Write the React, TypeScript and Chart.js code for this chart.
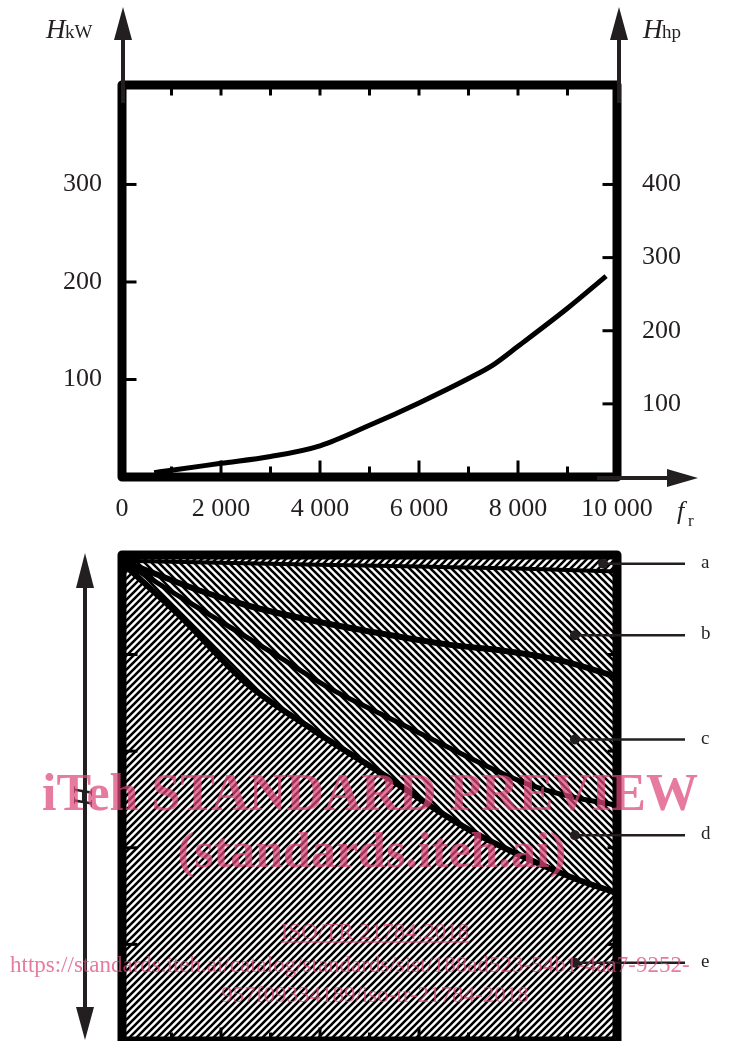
import React, { useEffect, useRef } from "react";
import { Chart, registerables } from "chart.js";

Chart.register(...registerables);

// ---------- upper diagram: power vs. rotational frequency ----------
const speedRpm = [650, 1000, 2000, 3000, 4000, 5000, 6000, 7000, 7500, 8000, 9000, 9780];
const powerKw = [4.5, 7, 14, 21, 32, 53, 76, 101, 115, 134, 173, 206];
const rpmTickValues = [0, 2000, 4000, 6000, 8000, 10000];
const rpmMarkValues = [1000, 2000, 3000, 4000, 5000, 6000, 7000, 8000, 9000];
const kwTickValues = [100, 200, 300];
const hpTickValues = [100, 200, 300, 400];

// ---------- lower diagram: zones (boundary curves) ----------
const curveAX = [0, 2000, 4000, 6000, 8000, 10000];
const curveAY = [4.97, 4.95, 4.93, 4.91, 4.89, 4.86];
const curveBX = [0, 1580, 2520, 3860, 5210, 6630, 7700, 8850, 10000];
const curveBY = [4.97, 4.66, 4.51, 4.35, 4.22, 4.1, 4.04, 3.94, 3.77];
const curveCX = [0, 970, 1840, 3190, 4200, 5210, 6630, 7640, 8240, 9050, 10000];
const curveCY = [4.97, 4.66, 4.39, 3.97, 3.65, 3.39, 3.03, 2.78, 2.65, 2.53, 2.44];
const curveDX = [0, 1170, 2520, 3860, 5210, 7030, 9050, 10000];
const curveDY = [4.95, 4.4, 3.7, 3.22, 2.78, 2.18, 1.7, 1.53];
const zoneLabels = ["a", "b", "c", "d", "e"];
const zoneDotX = [9720, 9150, 9150, 9150, 9150];
const zoneDotY = [4.94, 4.2, 3.12, 2.13, 0.81];
const hTickValues = [1, 2, 3, 4];

const INK = "#231f20";
const SERIF = '"Liberation Serif", "Times New Roman", serif';

const pts = (xs: number[], ys: number[]) => xs.map((x, i) => ({ x, y: ys[i] }));

function fmtRpm(v: number) {
  if (v === 0) return "0";
  const th = Math.floor(v / 1000);
  const rest = String(v % 1000).padStart(3, "0");
  return `${th} ${rest}`;
}

function hatch(ctx: CanvasRenderingContext2D, dir: number, size = 7, lw = 2.6) {
  const c = document.createElement("canvas");
  c.width = size;
  c.height = size;
  const g = c.getContext("2d")!;
  g.fillStyle = "#fff";
  g.fillRect(0, 0, size, size);
  g.strokeStyle = "#000";
  g.lineWidth = lw;
  g.beginPath();
  if (dir > 0) {
    g.moveTo(-1, size + 1);
    g.lineTo(size + 1, -1);
    g.moveTo(-2, 2);
    g.lineTo(2, -2);
    g.moveTo(size - 2, size + 2);
    g.lineTo(size + 2, size - 2);
  } else {
    g.moveTo(-1, -1);
    g.lineTo(size + 1, size + 1);
    g.moveTo(size - 2, -2);
    g.lineTo(size + 2, 2);
    g.moveTo(-2, size - 2);
    g.lineTo(2, size + 2);
  }
  g.stroke();
  return ctx.createPattern(c, "repeat")!;
}

function seg(ctx: CanvasRenderingContext2D, x1: number, y1: number, x2: number, y2: number) {
  ctx.beginPath();
  ctx.moveTo(x1, y1);
  ctx.lineTo(x2, y2);
  ctx.stroke();
}

function tri(ctx: CanvasRenderingContext2D, pts: number[][]) {
  ctx.beginPath();
  ctx.moveTo(pts[0][0], pts[0][1]);
  ctx.lineTo(pts[1][0], pts[1][1]);
  ctx.lineTo(pts[2][0], pts[2][1]);
  ctx.closePath();
  ctx.fill();
}

const topDecor = {
  id: "topDecor",
  afterDraw(chart: any) {
    const { ctx, chartArea: a, scales } = chart;
    const x = scales.x, y = scales.y, y2 = scales.y2;
    ctx.save();
    ctx.strokeStyle = "#000";
    ctx.lineWidth = 9;
    ctx.lineJoin = "round";
    ctx.strokeRect(a.left, a.top, a.right - a.left, a.bottom - a.top);
    ctx.lineWidth = 3;
    rpmMarkValues.forEach((v) => {
      const px = x.getPixelForValue(v);
      const major = v % 2000 === 0;
      seg(ctx, px, a.top, px, a.top + 4.5 + 6);
      seg(ctx, px, a.bottom, px, a.bottom - 4.5 - (major ? 12 : 6));
    });
    kwTickValues.forEach((v) => {
      const py = y.getPixelForValue(v);
      seg(ctx, a.left, py, a.left + 4.5 + 10, py);
    });
    hpTickValues.forEach((v) => {
      const py = y2.getPixelForValue(v);
      seg(ctx, a.right, py, a.right - 4.5 - 10, py);
    });
    // arrows
    ctx.strokeStyle = INK;
    ctx.fillStyle = INK;
    ctx.lineWidth = 4;
    const lx = a.left + 1, rx = a.right + 2;
    seg(ctx, lx, a.top + 18, lx, 38);
    tri(ctx, [[lx, 7], [lx - 9, 40], [lx + 9, 40]]);
    seg(ctx, rx, a.top + 18, rx, 38);
    tri(ctx, [[rx, 7], [rx - 9, 40], [rx + 9, 40]]);
    const by = a.bottom + 1;
    seg(ctx, a.right - 20, by, 670, by);
    tri(ctx, [[698, by], [667, by - 9], [667, by + 9]]);
    // axis titles
    ctx.textBaseline = "alphabetic";
    ctx.textAlign = "left";
    ctx.font = `italic 27px ${SERIF}`;
    ctx.fillText("H", 46, 38);
    ctx.fillText("H", 643, 38);
    ctx.font = `19px ${SERIF}`;
    ctx.fillText("kW", 65, 38);
    ctx.fillText("hp", 662, 38);
    ctx.font = `italic 26px ${SERIF}`;
    ctx.fillText("f", 677, 519);
    ctx.font = `17px ${SERIF}`;
    ctx.fillText("r", 688, 526);
    ctx.restore();
  },
};

const botDecor = {
  id: "botDecor",
  afterDraw(chart: any) {
    const { ctx, chartArea: a, scales } = chart;
    const x = scales.x, y = scales.y;
    ctx.save();
    ctx.strokeStyle = "#000";
    ctx.lineWidth = 9;
    ctx.lineJoin = "round";
    ctx.strokeRect(a.left, a.top, a.right - a.left, a.bottom - a.top);
    ctx.lineWidth = 3;
    hTickValues.forEach((v) => {
      const py = y.getPixelForValue(v);
      seg(ctx, a.left, py, a.left + 4.5 + 11, py);
      seg(ctx, a.right, py, a.right - 4.5 - 5, py);
    });
    rpmMarkValues.forEach((v) => {
      const px = x.getPixelForValue(v);
      const major = v % 2000 === 0;
      seg(ctx, px, a.bottom, px, a.bottom - 4.5 - (major ? 9 : 4));
    });
    // zone markers
    ctx.strokeStyle = INK;
    ctx.fillStyle = INK;
    ctx.lineWidth = 2.5;
    ctx.font = `19px ${SERIF}`;
    ctx.textBaseline = "middle";
    ctx.textAlign = "left";
    zoneLabels.forEach((lab, i) => {
      const px = x.getPixelForValue(zoneDotX[i]);
      const py = y.getPixelForValue(zoneDotY[i]);
      seg(ctx, px, py, a.right + 68, py);
      ctx.beginPath();
      ctx.arc(px, py, 5, 0, Math.PI * 2);
      ctx.fill();
      ctx.fillText(lab, a.right + 84, py - 1);
    });
    // H double arrow
    const hx = a.left - 37;
    ctx.lineWidth = 4;
    seg(ctx, hx, a.top + 30, hx, a.bottom - 30);
    tri(ctx, [[hx, a.top - 2], [hx - 9, a.top + 33], [hx + 9, a.top + 33]]);
    tri(ctx, [[hx, a.bottom - 1], [hx - 9, a.bottom - 34], [hx + 9, a.bottom - 34]]);
    ctx.save();
    ctx.translate(hx, 267);
    ctx.rotate(-Math.PI / 2);
    ctx.font = `italic 27px ${SERIF}`;
    ctx.textAlign = "center";
    ctx.textBaseline = "middle";
    ctx.fillText("H", 0, 0);
    ctx.restore();
    // watermark
    const off = 530;
    ctx.fillStyle = "rgba(221, 70, 122, 0.72)";
    ctx.strokeStyle = "rgba(221, 70, 122, 0.72)";
    ctx.textBaseline = "alphabetic";
    ctx.textAlign = "center";
    ctx.font = `bold 52px ${SERIF}`;
    ctx.fillText("iTeh STANDARD PREVIEW", 370, 810 - off);
    ctx.font = `bold 50px ${SERIF}`;
    ctx.fillText("(standards.iteh.ai)", 372, 867 - off);
    ctx.font = `23px ${SERIF}`;
    ctx.fillText("ISO/TR 21784:2018", 375, 939 - off);
    const w = ctx.measureText("ISO/TR 21784:2018").width;
    ctx.lineWidth = 1.3;
    seg(ctx, 375 - w / 2, 942 - off, 375 + w / 2, 942 - off);
    ctx.textAlign = "left";
    ctx.fillText("https://standards.iteh.ai/catalog/standards/sist/188ad523-54b1-4aa7-9252-", 10, 972 - off);
    ctx.textAlign = "center";
    ctx.fillText("957f09334189/iso-tr-21784-2018", 375, 1002 - off);
    ctx.restore();
  },
};

export default function App() {
  const topRef = useRef<HTMLCanvasElement>(null);
  const botRef = useRef<HTMLCanvasElement>(null);

  useEffect(() => {
    const tickFont = { family: SERIF, size: 26 };
    const c1 = new Chart(topRef.current!, {
      type: "line",
      data: {
        datasets: [
          {
            data: pts(speedRpm, powerKw),
            borderColor: "#000",
            borderWidth: 5,
            pointRadius: 0,
            cubicInterpolationMode: "monotone",
            fill: false,
            yAxisID: "y",
          },
        ],
      },
      options: {
        responsive: false,
        animation: false,
        layout: { padding: { top: 85, left: 0, right: 0, bottom: 0 } },
        plugins: { legend: { display: false }, tooltip: { enabled: false } },
        scales: {
          x: {
            type: "linear",
            position: "bottom",
            min: 0,
            max: 10000,
            grid: { display: false },
            border: { display: false },
            afterBuildTicks: (s: any) => {
              s.ticks = rpmTickValues.map((v) => ({ value: v }));
            },
            afterFit: (s: any) => {
              s.height = 53;
            },
            ticks: { font: tickFont, color: INK, padding: 9, maxRotation: 0, autoSkip: false, callback: (v: any) => fmtRpm(Number(v)) },
          },
          y: {
            type: "linear",
            position: "left",
            min: 0,
            max: 402,
            grid: { display: false },
            border: { display: false },
            afterBuildTicks: (s: any) => {
              s.ticks = kwTickValues.map((v) => ({ value: v }));
            },
            afterFit: (s: any) => {
              s.width = 122;
            },
            ticks: { font: tickFont, color: INK, padding: 12 },
          },
          y2: {
            type: "linear",
            position: "right",
            min: 0,
            max: 536,
            grid: { display: false },
            border: { display: false },
            afterBuildTicks: (s: any) => {
              s.ticks = hpTickValues.map((v) => ({ value: v }));
            },
            afterFit: (s: any) => {
              s.width = 120;
            },
            ticks: { font: tickFont, color: INK, padding: 17 },
          },
        },
      },
      plugins: [topDecor],
    } as any);

    const bctx = botRef.current!.getContext("2d")!;
    const slash = hatch(bctx, 1);
    const back = hatch(bctx, -1);
    const lineBase = { borderColor: "#000", pointRadius: 0, cubicInterpolationMode: "monotone" };
    const c2 = new Chart(botRef.current!, {
      type: "line",
      data: {
        datasets: [
          { ...lineBase, data: pts(curveDX, curveDY), fill: "start", backgroundColor: slash, borderWidth: 0 },
          { ...lineBase, data: pts(curveAX, curveAY), fill: "end", backgroundColor: slash, borderWidth: 4 },
          { ...lineBase, data: pts(curveBX, curveBY), fill: "-1", backgroundColor: back, borderWidth: 6 },
          { ...lineBase, data: pts(curveCX, curveCY), fill: "-1", backgroundColor: back, borderWidth: 5 },
          { ...lineBase, data: pts(curveDX, curveDY), fill: "-1", backgroundColor: back, borderWidth: 6 },
        ],
      },
      options: {
        responsive: false,
        animation: false,
        layout: { padding: { top: 25, left: 122, right: 120, bottom: 0 } },
        plugins: {
          legend: { display: false },
          tooltip: { enabled: false },
          filler: { drawTime: "beforeDatasetsDraw" },
        },
        scales: {
          x: { type: "linear", min: 0, max: 10000, display: false },
          y: { type: "linear", min: 0, max: 5.03, display: false },
        },
      },
      plugins: [botDecor],
    } as any);

    return () => {
      c1.destroy();
      c2.destroy();
    };
  }, []);

  return (
    <div style={{ position: "absolute", left: 0, top: 0, width: 737, height: 1041, overflow: "hidden", background: "#fff" }}>
      <canvas ref={topRef} width={737} height={530} style={{ position: "absolute", left: 0, top: 0 }} />
      <canvas ref={botRef} width={737} height={511} style={{ position: "absolute", left: 0, top: 530 }} />
    </div>
  );
}
